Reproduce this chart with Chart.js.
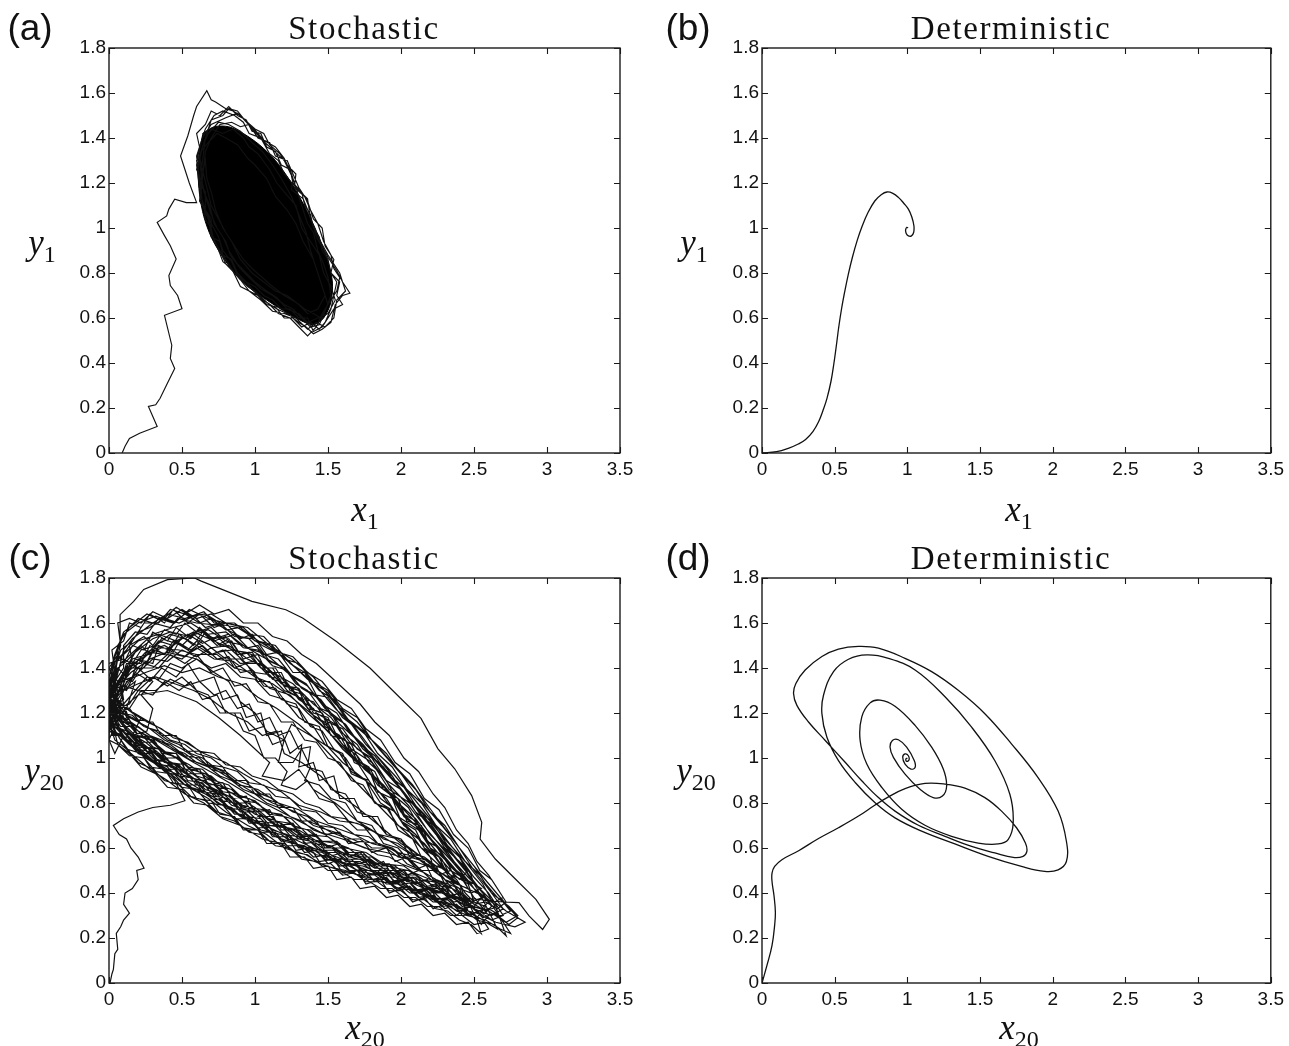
<!DOCTYPE html>
<html>
<head>
<meta charset="utf-8">
<script src="https://cdn.jsdelivr.net/npm/chart.js@4.4.1/dist/chart.umd.min.js"></script>
<style>
  html,body{margin:0;padding:0;background:#fff;}
  body{width:1289px;height:1046px;position:relative;overflow:hidden;}
  canvas{position:absolute;}
  .lbl{position:absolute;transform:translate(-50%,-50%);white-space:nowrap;color:#111;}
  .pl{font-family:"Liberation Sans",Arial,sans-serif;font-size:37px;}
  .ttl{font-family:"Liberation Serif","DejaVu Serif",serif;font-size:33px;letter-spacing:1.6px;}
  .ax{font-family:"Liberation Serif","DejaVu Serif",serif;font-style:italic;font-size:35px;}
  .ax sub{font-style:normal;font-size:24px;vertical-align:-8px;}
</style>
</head>
<body>
<canvas id="ca" width="660" height="500" style="left:0;top:0"></canvas>
<canvas id="cb" width="636" height="500" style="left:653px;top:0"></canvas>
<canvas id="cc" width="660" height="500" style="left:0;top:530px"></canvas>
<canvas id="cd" width="636" height="500" style="left:653px;top:530px"></canvas>

<div class="lbl pl" style="left:30px;top:28px">(a)</div>
<div class="lbl ttl" style="left:364px;top:28px">Stochastic</div>
<div class="lbl ax" style="left:365px;top:512px"><span>x</span><sub>1</sub></div>
<div class="lbl ax" style="left:42px;top:245px"><span>y</span><sub>1</sub></div>

<div class="lbl pl" style="left:688px;top:28px">(b)</div>
<div class="lbl ttl" style="left:1011px;top:28px">Deterministic</div>
<div class="lbl ax" style="left:1019px;top:512px"><span>x</span><sub>1</sub></div>
<div class="lbl ax" style="left:694px;top:245px"><span>y</span><sub>1</sub></div>

<div class="lbl pl" style="left:30px;top:558px">(c)</div>
<div class="lbl ttl" style="left:364px;top:558px">Stochastic</div>
<div class="lbl ax" style="left:365px;top:1030px"><span>x</span><sub>20</sub></div>
<div class="lbl ax" style="left:44px;top:773px"><span>y</span><sub>20</sub></div>

<div class="lbl pl" style="left:688px;top:558px">(d)</div>
<div class="lbl ttl" style="left:1011px;top:558px">Deterministic</div>
<div class="lbl ax" style="left:1019px;top:1030px"><span>x</span><sub>20</sub></div>
<div class="lbl ax" style="left:696px;top:773px"><span>y</span><sub>20</sub></div>

<script>
// ---------- tick values ----------
const xTicks = [0, 0.5, 1, 1.5, 2, 2.5, 3, 3.5];
const yTicks = [0, 0.2, 0.4, 0.6, 0.8, 1, 1.2, 1.4, 1.6, 1.8];

// ---------- (a) stochastic, x1 vs y1 ----------
const stochA = [
 [0.09,0.0],[0.11,0.03],[0.14,0.065],[0.21,0.088],[0.33,0.118],[0.27,0.207],[0.32,0.214],[0.35,0.243],
 [0.4,0.31],[0.45,0.376],[0.42,0.42],[0.43,0.479],[0.38,0.612],[0.5,0.641],[0.47,0.7],[0.42,0.744],
 [0.41,0.789],[0.46,0.862],[0.42,0.921],[0.38,0.966],[0.33,1.025],[0.395,1.054],[0.41,1.084],[0.45,1.128],
 [0.53,1.113],[0.6,1.113],
 [0.55,1.2],[0.49,1.32],[0.54,1.41],[0.58,1.5],[0.6,1.54],[0.67,1.61],[0.7,1.57],[0.73,1.56],[0.8,1.53],
 [0.85,1.52],[0.9,1.5],[0.97,1.45],[1.05,1.39],[1.12,1.35],[1.2,1.3],[1.26,1.22],[1.25,1.17],[1.33,1.13],
 [1.38,1.05],[1.42,0.96],[1.5,0.87],[1.56,0.81],[1.6,0.76],[1.65,0.71],[1.6,0.7],[1.55,0.66],[1.52,0.58],
 [1.46,0.55],[1.4,0.53],[1.35,0.56],[1.3,0.58],[1.22,0.62],[1.15,0.64],[1.08,0.67],[1.0,0.72],[0.95,0.74],
 [0.88,0.79],[0.84,0.85],[0.78,0.9],[0.75,0.96],[0.7,1.02],[0.66,1.08],[0.63,1.14],[0.62,1.22],[0.6,1.3],
 [0.63,1.38],[0.66,1.44],[0.72,1.5],[0.78,1.52],[0.86,1.5],[0.92,1.47],[0.96,1.42],[1.04,1.4],[1.1,1.33],
 [1.16,1.3],[1.2,1.24],[1.28,1.18],[1.32,1.1],[1.36,1.02],[1.4,0.98],[1.43,0.9],[1.47,0.84],[1.5,0.78],
 [1.52,0.7],[1.48,0.63],[1.44,0.57],[1.38,0.56],[1.32,0.6],[1.26,0.64],[1.2,0.66],[1.12,0.7],[1.04,0.73],
 [0.96,0.78],[0.9,0.82],[0.83,0.88],[0.8,0.94],[0.74,1.0],[0.7,1.06],[0.66,1.14],[0.64,1.2],[0.62,1.3],
 [0.64,1.36],[0.68,1.42],[0.75,1.47],[0.82,1.46],[0.9,1.43],[0.98,1.38],[1.05,1.34],[1.12,1.28],[1.18,1.22],
 [1.25,1.14],[1.3,1.06],[1.35,0.98],[1.38,0.9],[1.42,0.82],[1.46,0.74],[1.5,0.66],[1.45,0.6],[1.4,0.62],
 [1.34,0.64],[1.28,0.67],[1.2,0.7],[1.12,0.74],[1.05,0.78],[0.98,0.82],[0.92,0.86],[0.86,0.92],[0.8,0.98],
 [0.75,1.04],[0.7,1.1],[0.67,1.18],[0.64,1.26],[0.62,1.32],[0.66,1.4],[0.7,1.44],[0.78,1.42],[0.85,1.44],
 [0.92,1.4],[0.96,1.36],[1.02,1.33],[1.1,1.26],[1.15,1.2],[1.2,1.16],[1.28,1.1],[1.32,1.0],[1.38,0.94],
 [1.44,0.88],[1.47,0.8],[1.52,0.74],[1.55,0.68],[1.5,0.62],[1.43,0.6],[1.36,0.58],[1.3,0.62],[1.22,0.64],
 [1.15,0.69],[1.08,0.72],[1.0,0.76],[0.94,0.8],[0.88,0.84],[0.82,0.9],[0.78,0.96],[0.72,1.02],[0.69,1.1],
 [0.65,1.16],[0.63,1.24],[0.66,1.4],[0.7,1.48],[0.78,1.5],[0.82,1.53],[0.88,1.52],[0.93,1.48],[1.0,1.44],
 [1.06,1.42],[1.1,1.37],[1.17,1.33],[1.22,1.28],[1.28,1.24],[1.27,1.18],[1.34,1.14],[1.38,1.08],[1.43,1.02],
 [1.47,0.94],[1.52,0.88],[1.54,0.82],[1.58,0.78],[1.56,0.72],[1.5,0.66],[1.46,0.62],[1.42,0.56],[1.36,0.52],
 [1.3,0.56],[1.24,0.6],[1.16,0.62],[1.1,0.66],[1.02,0.7],[0.94,0.76],[0.86,0.8],[0.8,0.86],[0.74,0.92],
 [0.7,0.98],[0.68,1.06],[0.62,1.12],[0.64,1.2],[0.6,1.26],[0.63,1.34],[0.68,1.38],[0.74,1.42],[0.8,1.4],
 [0.88,1.37],[0.95,1.31],[1.0,1.28],[1.08,1.22],[1.14,1.14],[1.22,1.08],[1.28,1.02],[1.33,0.94],[1.4,0.86],
 [1.44,0.78],[1.48,0.7],[1.43,0.64],[1.36,0.62],[1.3,0.66],[1.22,0.7],[1.14,0.72],[1.06,0.76],[0.98,0.8],
 [0.9,0.86],[0.84,0.94],[0.78,1.0],[0.73,1.08],[0.7,1.16],[0.67,1.22],[0.66,1.3],
 [0.62,1.18],[0.6,1.28],[0.62,1.36],[0.6,1.42],[0.66,1.46],[0.7,1.52],[0.76,1.5],[0.82,1.54],[0.88,1.5],
 [0.94,1.48],[0.98,1.43],[1.04,1.42],[1.08,1.36],[1.14,1.34],[1.18,1.28],[1.24,1.26],[1.26,1.2],[1.32,1.16],
 [1.34,1.1],[1.38,1.06],[1.4,1.0],[1.44,0.96],[1.46,0.9],[1.5,0.86],[1.52,0.8],[1.56,0.76],[1.54,0.7],
 [1.52,0.64],[1.48,0.58],[1.44,0.55],[1.38,0.58],[1.32,0.56],[1.26,0.6],[1.2,0.6],[1.14,0.65],[1.08,0.66],
 [1.02,0.7],[0.96,0.72],[0.9,0.77],[0.86,0.8],[0.8,0.84],[0.76,0.9],[0.72,0.94],[0.7,1.0],[0.66,1.04],
 [0.65,1.1],[0.62,1.16],
 [0.64,1.22],[0.66,1.34],[0.7,1.4],[0.76,1.46],[0.84,1.47],[0.9,1.45],[0.96,1.46],[1.02,1.4],[1.1,1.38],
 [1.14,1.32],[1.22,1.3],[1.26,1.24],[1.3,1.18],[1.36,1.12],[1.4,1.04],[1.46,1.0],[1.48,0.92],[1.54,0.86],
 [1.52,0.8],[1.58,0.76],[1.56,0.7],[1.6,0.66],[1.54,0.64],[1.5,0.6],[1.46,0.56],[1.4,0.54],[1.36,0.6],
 [1.3,0.6],[1.24,0.64],[1.18,0.64],[1.12,0.68],[1.06,0.7],[1.0,0.74],[0.94,0.76],[0.88,0.8],[0.84,0.86],
 [0.78,0.88],[0.76,0.94],[0.7,0.96],[0.7,1.04],[0.66,1.08],[0.66,1.16],
 [0.62,1.2],[0.6,1.32],[0.64,1.4],[0.7,1.46],[0.8,1.49],[0.88,1.51],[0.98,1.45],[1.06,1.39],[1.14,1.36],
 [1.2,1.31],[1.25,1.24],[1.28,1.18],[1.36,1.13],[1.38,1.04],[1.44,0.95],[1.5,0.88],[1.58,0.8],[1.62,0.72],
 [1.56,0.68],[1.54,0.6],[1.48,0.56],[1.42,0.58],[1.36,0.55],[1.28,0.6],[1.2,0.62],[1.12,0.63],[1.04,0.68],
 [0.96,0.72],[0.9,0.74],[0.84,0.82],[0.78,0.85],[0.74,0.92],[0.7,0.97],[0.68,1.04],[0.64,1.1],[0.63,1.18]
];
const stochAcore = [
 [0.64,1.42],[0.72,1.45],[0.82,1.45],[0.92,1.42],[1.03,1.37],[1.14,1.30],[1.24,1.21],[1.32,1.12],
 [1.39,1.03],[1.45,0.94],[1.50,0.85],[1.53,0.76],[1.52,0.67],[1.47,0.60],[1.40,0.57],[1.31,0.59],
 [1.20,0.63],[1.08,0.68],[0.97,0.73],[0.86,0.80],[0.77,0.88],[0.70,0.96],[0.65,1.05],[0.62,1.15],
 [0.61,1.26],[0.62,1.36]
];

// ---------- (b) deterministic, x1 vs y1 ----------
const detB = [
 [0,0],[0.1,0.006],[0.185,0.022],[0.25,0.04],[0.3,0.06],[0.35,0.095],[0.39,0.14],[0.42,0.19],[0.447,0.243],
 [0.475,0.32],[0.495,0.40],[0.512,0.48],[0.528,0.56],[0.547,0.64],[0.57,0.72],[0.594,0.795],[0.622,0.87],
 [0.655,0.945],[0.69,1.01],[0.73,1.07],[0.776,1.12],[0.82,1.148],[0.86,1.16],[0.9,1.154],[0.94,1.135],
 [0.975,1.11],[1.007,1.084],[1.03,1.05],[1.045,1.01],[1.043,0.98],[1.028,0.965],[1.007,0.965],[0.992,0.976],
 [0.988,0.992],[0.997,1.003],[1.005,1.0]
];

// ---------- (c) stochastic, x20 vs y20 ----------
const stochC = [
 [0.007,0.0],[0.02,0.04],[0.03,0.06],[0.04,0.13],[0.06,0.15],[0.05,0.22],[0.08,0.25],[0.1,0.28],[0.14,0.31],
 [0.1,0.35],[0.11,0.4],[0.16,0.42],[0.2,0.46],[0.19,0.5],[0.24,0.51],[0.2,0.56],[0.15,0.6],[0.12,0.64],
 [0.07,0.66],[0.04,0.69],[0.03,0.7],[0.1,0.73],[0.2,0.76],[0.3,0.78],[0.42,0.79],[0.52,0.81],[0.45,0.9],
 [0.3,1.0],[0.15,1.1],[0.05,1.2],
 [0.02,1.3],[0.08,1.52],[0.076,1.637],[0.169,1.696],[0.238,1.749],[0.4,1.793],[0.586,1.8],[0.632,1.786],
 [0.748,1.756],[0.979,1.696],[1.211,1.659],[1.326,1.622],[1.558,1.518],[1.789,1.399],[2.021,1.25],[2.137,1.176],
 [2.252,1.042],[2.368,0.952],[2.484,0.833],[2.553,0.714],[2.542,0.64],[2.646,0.551],[2.785,0.461],[2.924,0.372],
 [3.016,0.283],[2.97,0.238],[2.877,0.298],[2.808,0.357],[2.7,0.36],[2.55,0.37],[2.4,0.38],[2.2,0.42],
 [2.0,0.47],[1.8,0.52],[1.6,0.55],[1.4,0.6],[1.2,0.66],[1.0,0.72],[0.85,0.8],[0.7,0.86],[0.55,0.92],
 [0.4,0.98],[0.25,1.05],[0.12,1.12],[0.04,1.2],
 [0.03,1.3],[0.1,1.48],[0.16,1.53],[0.3,1.6],[0.42,1.58],[0.47,1.62],[0.6,1.6],[0.75,1.59],[0.9,1.54],
 [0.98,1.53],[1.05,1.5],[1.2,1.45],[1.36,1.35],[1.5,1.29],[1.62,1.18],[1.8,1.08],[1.95,0.97],[2.08,0.88],
 [2.25,0.73],[2.38,0.62],[2.5,0.5],[2.62,0.4],[2.7,0.33],[2.62,0.3],[2.5,0.33],[2.4,0.36],[2.25,0.41],
 [2.12,0.44],[1.95,0.49],[1.82,0.49],[1.65,0.53],[1.5,0.55],[1.38,0.6],[1.2,0.63],[1.05,0.7],[0.9,0.74],
 [0.76,0.81],[0.6,0.87],[0.45,0.93],[0.3,0.99],[0.18,1.06],[0.06,1.14],
 [0.02,1.2],[0.08,1.33],[0.15,1.38],[0.28,1.44],[0.4,1.47],[0.52,1.45],[0.6,1.49],[0.72,1.44],[0.85,1.43],
 [1.0,1.36],[1.12,1.33],[1.25,1.27],[1.38,1.2],[1.5,1.14],[1.6,1.06],[1.75,0.95],[1.88,0.88],[2.02,0.77],
 [2.15,0.68],[2.3,0.56],[2.42,0.47],[2.46,0.42],[2.38,0.44],[2.25,0.5],[2.1,0.56],[1.98,0.58],[1.85,0.62],
 [1.7,0.63],[1.55,0.67],[1.4,0.7],[1.28,0.76],[1.12,0.8],[0.98,0.85],[0.85,0.9],[0.7,0.96],[0.56,0.99],
 [0.42,1.05],[0.28,1.1],[0.15,1.16],[0.05,1.24],
 [0.0,1.3],[0.04,1.45],[0.1,1.55],[0.2,1.6],[0.32,1.63],[0.45,1.6],[0.55,1.66],[0.68,1.62],[0.8,1.6],
 [0.95,1.58],[1.1,1.5],[1.25,1.44],[1.4,1.36],[1.55,1.24],[1.7,1.16],[1.85,1.04],[2.0,0.93],[2.12,0.82],
 [2.28,0.7],[2.4,0.6],[2.55,0.48],[2.68,0.38],[2.8,0.29],[2.74,0.26],[2.6,0.32],[2.45,0.35],[2.35,0.42],
 [2.2,0.44],[2.05,0.5],[1.9,0.5],[1.75,0.57],[1.6,0.57],[1.45,0.63],[1.3,0.65],[1.15,0.72],[1.0,0.75],
 [0.85,0.82],[0.7,0.87],[0.55,0.94],[0.4,0.99],[0.25,1.07],[0.12,1.12],[0.02,1.22],
 [0.05,1.28],[0.14,1.35],[0.25,1.38],[0.38,1.41],[0.5,1.38],[0.62,1.4],[0.75,1.36],[0.9,1.33],[1.02,1.27],
 [1.15,1.22],[1.3,1.15],[1.42,1.08],[1.55,0.99],[1.68,0.9],[1.8,0.82],[1.95,0.72],[2.08,0.64],[2.2,0.56],
 [2.22,0.52],[2.1,0.58],[1.98,0.64],[1.85,0.66],[1.7,0.71],[1.58,0.72],[1.45,0.76],[1.3,0.79],[1.18,0.85],
 [1.05,0.88],[0.92,0.93],[0.8,0.98],[0.65,1.02],[0.5,1.08],[0.38,1.12],[0.25,1.17],[0.12,1.22],[0.03,1.28],
 [0.08,1.36],[0.18,1.47],[0.3,1.53],[0.42,1.56],[0.55,1.54],[0.68,1.57],[0.8,1.52],[0.92,1.5],[1.05,1.45],
 [1.2,1.4],[1.32,1.31],[1.45,1.26],[1.58,1.15],[1.7,1.08],[1.85,0.97],[2.0,0.86],[2.15,0.74],[2.3,0.62],
 [2.42,0.52],[2.55,0.41],[2.65,0.32],[2.75,0.22],[2.68,0.24],[2.58,0.28],[2.45,0.3],[2.3,0.35],[2.18,0.38],
 [2.05,0.42],[1.9,0.46],[1.78,0.46],[1.62,0.5],[1.48,0.52],[1.35,0.57],[1.2,0.6],[1.08,0.66],[0.95,0.7],
 [0.8,0.76],[0.68,0.82],[0.52,0.88],[0.38,0.95],[0.25,1.0],[0.12,1.08],[0.04,1.16],
 [0.0,1.25],[0.06,1.4],[0.12,1.43],[0.22,1.5],[0.28,1.46],[0.36,1.53],[0.5,1.5],[0.58,1.55],[0.7,1.49],
 [0.82,1.5],[0.95,1.44],[1.08,1.4],[1.18,1.33],[1.3,1.3],[1.42,1.2],[1.55,1.15],[1.66,1.04],[1.8,0.98],
 [1.92,0.86],[2.06,0.8],[2.2,0.66],[2.32,0.58],[2.45,0.46],[2.55,0.38],[2.5,0.34],[2.38,0.38],[2.28,0.44],
 [2.15,0.46],[2.02,0.52],[1.88,0.53],[1.76,0.58],[1.62,0.6],[1.5,0.65],[1.36,0.66],[1.25,0.73],[1.1,0.76],
 [0.96,0.82],[0.82,0.85],[0.7,0.92],[0.56,0.95],[0.44,1.01],[0.3,1.05],[0.2,1.12],[0.08,1.17],
 [0.02,1.22],[0.1,1.3],[0.2,1.33],[0.32,1.36],[0.45,1.33],[0.58,1.3],[0.7,1.26],[0.82,1.2],[0.95,1.16],
 [1.05,1.1],[1.15,1.12],[1.2,1.02],[1.32,0.98],[1.45,0.92],[1.55,0.85],[1.7,0.78],[1.85,0.7],[2.0,0.62],
 [2.12,0.57],[2.05,0.55],[1.9,0.58],[1.75,0.6],[1.6,0.64],[1.45,0.67],[1.3,0.72],[1.15,0.77],[1.0,0.82],
 [0.85,0.88],[0.72,0.93],[0.58,0.98],[0.45,1.03],[0.32,1.08],[0.2,1.12],[0.1,1.18],
 [0.04,1.3],[0.06,1.5],[0.14,1.58],[0.2,1.62],[0.3,1.6],[0.4,1.64],[0.52,1.62],[0.65,1.65],[0.72,1.6],
 [0.88,1.58],[1.0,1.53],[1.15,1.47],[1.28,1.4],[1.42,1.32],[1.55,1.22],[1.68,1.14],[1.82,1.02],[1.96,0.92],
 [2.1,0.81],[2.25,0.69],[2.38,0.58],[2.5,0.47],[2.6,0.4],[2.66,0.34],[2.58,0.32],[2.45,0.37],[2.32,0.39],
 [2.18,0.45],[2.05,0.47],[1.92,0.52],[1.78,0.54],[1.65,0.56],[1.52,0.61],[1.4,0.62],[1.26,0.68],[1.12,0.71],
 [0.98,0.78],[0.85,0.8],[0.72,0.88],[0.58,0.91],[0.45,0.97],[0.32,1.02],[0.2,1.08],[0.1,1.14],[0.03,1.2],
 [0.05,1.26],[0.12,1.4],[0.24,1.45],[0.36,1.49],[0.48,1.48],[0.6,1.46],[0.74,1.46],[0.86,1.4],[0.98,1.38],
 [1.1,1.31],[1.24,1.28],[1.36,1.2],[1.48,1.13],[1.6,1.05],[1.72,0.97],[1.85,0.9],[1.98,0.8],[2.1,0.73],
 [2.22,0.63],[2.35,0.54],[2.48,0.44],[2.52,0.4],[2.42,0.43],[2.3,0.48],[2.18,0.52],[2.05,0.55],[1.92,0.6],
 [1.8,0.62],[1.68,0.66],[1.55,0.69],[1.42,0.72],[1.3,0.77],[1.16,0.8],[1.02,0.86],[0.9,0.88],[0.78,0.94],
 [0.64,0.98],[0.5,1.04],[0.38,1.08],[0.26,1.14],[0.14,1.18],[0.04,1.26],
 [0.0,1.32],[0.03,1.42],[0.1,1.46],[0.2,1.52],[0.34,1.55],[0.46,1.52],[0.58,1.56],[0.72,1.52],[0.85,1.48],
 [0.98,1.46],[1.12,1.38],[1.26,1.33],[1.4,1.24],[1.52,1.18],[1.65,1.07],[1.78,1.0],[1.92,0.88],[2.05,0.79],
 [2.18,0.68],[2.32,0.57],[2.46,0.47],[2.6,0.38],[2.72,0.32],[2.85,0.27],[2.78,0.25],[2.65,0.27],[2.52,0.31],
 [2.4,0.33],[2.28,0.37],[2.15,0.4],[2.0,0.44],[1.86,0.45],[1.72,0.48],[1.58,0.5],[1.45,0.53],[1.32,0.56],
 [1.18,0.62],[1.05,0.64],[0.9,0.7],[0.78,0.73],[0.65,0.8],[0.52,0.84],[0.4,0.9],[0.28,0.95],[0.15,1.02],
 [0.06,1.1],
 [0.0,1.18],[0.05,1.3],[0.1,1.38],[0.18,1.42],[0.25,1.47],[0.38,1.5],[0.48,1.46],[0.6,1.44],[0.72,1.38],
 [0.82,1.34],[0.9,1.25],[1.0,1.2],[1.08,1.12],[1.2,1.08],[1.25,1.15],[1.38,1.1],[1.5,1.05],[1.6,0.98],
 [1.72,0.92],[1.85,0.85],[1.98,0.74],[2.12,0.68],[2.25,0.58],[2.38,0.5],[2.5,0.42],[2.6,0.36],[2.55,0.33],
 [2.42,0.35],[2.3,0.4],[2.16,0.42],[2.02,0.46],[1.88,0.48],[1.74,0.52],[1.6,0.53],[1.46,0.58],[1.32,0.6],
 [1.18,0.66],[1.04,0.68],[0.92,0.74],[0.8,0.78],[0.66,0.84],[0.52,0.88],[0.4,0.96],[0.26,1.0],[0.14,1.06],
 [0.04,1.12],
 [0.0,1.26],[0.08,1.42],[0.18,1.48],[0.3,1.55],[0.44,1.58],[0.56,1.6],[0.68,1.55],[0.8,1.56],[0.94,1.49],
 [1.08,1.46],[1.22,1.38],[1.35,1.33],[1.48,1.22],[1.6,1.16],[1.74,1.04],[1.88,0.96],[2.02,0.84],[2.16,0.75],
 [2.3,0.64],[2.44,0.54],[2.56,0.44],[2.66,0.32],[2.72,0.21],[2.64,0.26],[2.52,0.28],[2.4,0.34],[2.26,0.36],
 [2.12,0.41],[1.98,0.42],[1.84,0.48],[1.7,0.5],[1.56,0.55],[1.42,0.57],[1.28,0.62],[1.14,0.65],[1.0,0.72],
 [0.86,0.76],[0.72,0.84],[0.58,0.86],[0.46,0.93],[0.34,0.96],[0.2,1.04],[0.08,1.1],
 [0.05,1.2],[0.2,1.28],[0.4,1.3],[0.6,1.25],[0.75,1.18],[0.9,1.1],[1.0,1.04],[1.1,0.98],[1.05,0.92],
 [1.2,0.9],[1.3,0.95],[1.4,0.86],[1.55,0.8],[1.7,0.72],[1.85,0.66],[2.0,0.6],[2.15,0.54],[2.3,0.46],
 [2.35,0.42],[2.2,0.46],[2.05,0.5],[1.9,0.52],[1.75,0.55],[1.6,0.58],[1.45,0.62],[1.3,0.68],[1.15,0.7],
 [1.0,0.78],[0.85,0.84],[0.7,0.9],[0.55,0.97],[0.4,1.02],[0.25,1.1],[0.1,1.16],[0.12,1.18],
 [0.08,1.3],[0.16,1.42],[0.14,1.5],[0.24,1.54],[0.3,1.5],[0.38,1.57],[0.46,1.55],[0.52,1.6],[0.6,1.56],
 [0.7,1.58],[0.78,1.53],[0.86,1.55],[0.95,1.49],[1.02,1.5],[1.1,1.43],[1.2,1.4],[1.28,1.33],[1.36,1.3],
 [1.45,1.22],[1.52,1.2],[1.6,1.11],[1.7,1.06],[1.78,0.98],[1.88,0.92],[1.96,0.83],[2.05,0.78],[2.14,0.68],
 [2.22,0.63],[2.32,0.53],[2.4,0.48],[2.5,0.38],[2.6,0.3],[2.55,0.26],[2.5,0.31],[2.42,0.3],[2.36,0.35],
 [2.28,0.34],[2.2,0.39],[2.12,0.38],[2.04,0.43],[1.96,0.42],[1.88,0.47],[1.8,0.46],[1.72,0.5],[1.64,0.5],
 [1.56,0.54],[1.48,0.55],[1.4,0.6],[1.3,0.6],[1.22,0.66],[1.12,0.68],[1.04,0.73],[0.95,0.74],[0.86,0.8],
 [0.78,0.81],[0.7,0.87],[0.6,0.88],[0.52,0.94],[0.42,0.96],[0.34,1.02],[0.26,1.03],[0.2,1.1],[0.15,1.15],
 [0.1,1.24],[0.18,1.3],[0.26,1.36],[0.34,1.35],[0.42,1.42],[0.5,1.4],[0.6,1.44],[0.7,1.4],[0.8,1.42],
 [0.9,1.36],[1.0,1.35],[1.1,1.28],[1.2,1.26],[1.3,1.18],[1.4,1.14],[1.48,1.06],[1.58,1.02],[1.66,0.94],
 [1.76,0.9],[1.86,0.8],[1.96,0.76],[2.06,0.67],[2.16,0.62],[2.26,0.54],[2.34,0.48],[2.38,0.44],[2.3,0.46],
 [2.22,0.5],[2.14,0.5],[2.06,0.55],[1.98,0.56],[1.9,0.6],[1.8,0.6],[1.72,0.64],[1.62,0.64],[1.54,0.69],
 [1.44,0.7],[1.36,0.74],[1.26,0.76],[1.16,0.8],[1.06,0.82],[0.98,0.87],[0.88,0.88],[0.8,0.93],[0.7,0.95],
 [0.62,1.0],[0.52,1.01],[0.42,1.06],[0.32,1.08],[0.22,1.13],[0.12,1.16],[0.05,1.22],
 [0.02,1.3],[0.06,1.44],[0.12,1.48],[0.2,1.56],[0.28,1.58],[0.38,1.62],[0.48,1.6],[0.58,1.63],[0.66,1.58],
 [0.76,1.6],[0.86,1.54],[0.96,1.53],[1.06,1.46],[1.16,1.44],[1.26,1.36],[1.36,1.32],[1.46,1.24],[1.56,1.2],
 [1.64,1.12],[1.74,1.06],[1.84,0.98],[1.94,0.92],[2.04,0.82],[2.14,0.76],[2.24,0.66],[2.34,0.58],[2.44,0.5],
 [2.52,0.42],[2.6,0.32],[2.66,0.24],[2.58,0.27],[2.5,0.26],[2.42,0.3],[2.34,0.3],[2.26,0.34],[2.18,0.34],
 [2.1,0.38],[2.02,0.38],[1.94,0.42],[1.86,0.42],[1.76,0.46],[1.68,0.46],[1.58,0.5],[1.5,0.5],[1.42,0.54],
 [1.32,0.55],[1.24,0.6],[1.14,0.61],[1.04,0.66],[0.96,0.67],[0.86,0.72],[0.76,0.74],[0.68,0.79],[0.58,0.8],
 [0.5,0.86],[0.4,0.87],[0.32,0.93],[0.22,0.96],[0.14,1.02],[0.06,1.06],[0.03,1.14],
 [0.0,1.12],[0.06,1.2],[0.14,1.22],[0.22,1.3],[0.32,1.3],[0.42,1.35],[0.52,1.32],[0.62,1.34],[0.72,1.28],
 [0.8,1.3],[0.88,1.22],[0.96,1.24],[1.02,1.16],[1.1,1.18],[1.16,1.1],[1.24,1.12],[1.3,1.04],[1.38,1.05],
 [1.36,0.96],[1.46,0.94],[1.52,0.86],[1.62,0.84],[1.7,0.76],[1.8,0.74],[1.9,0.66],[2.0,0.64],[2.1,0.56],
 [2.2,0.54],[2.3,0.46],[2.4,0.42],[2.44,0.36],[2.36,0.38],[2.28,0.42],[2.18,0.42],[2.1,0.47],[2.0,0.47],
 [1.92,0.52],[1.82,0.52],[1.74,0.56],[1.64,0.57],[1.56,0.62],[1.46,0.63],[1.36,0.68],[1.26,0.7],[1.18,0.75],
 [1.08,0.76],[1.0,0.81],[0.9,0.83],[0.82,0.88],[0.72,0.9],[0.64,0.95],[0.54,0.96],[0.46,1.02],[0.36,1.03],
 [0.28,1.08],[0.18,1.1],[0.1,1.15],
 [0.04,1.24],[0.02,1.38],[0.08,1.5],[0.06,1.6],[0.14,1.62],[0.22,1.6],[0.3,1.65],[0.4,1.62],[0.5,1.66],
 [0.6,1.62],[0.7,1.64],[0.8,1.6],[0.92,1.58],[1.02,1.52],[1.14,1.5],[1.24,1.42],[1.34,1.38],[1.44,1.3],
 [1.54,1.26],[1.64,1.17],[1.74,1.12],[1.84,1.02],[1.94,0.96],[2.04,0.86],[2.14,0.8],[2.24,0.7],[2.34,0.64],
 [2.44,0.54],[2.54,0.48],[2.62,0.4],[2.7,0.36],[2.75,0.32],[2.68,0.3],[2.6,0.33],[2.52,0.32],[2.44,0.37],
 [2.36,0.36],[2.28,0.41],[2.2,0.4],[2.1,0.45],[2.02,0.44],[1.92,0.49],[1.84,0.48],[1.74,0.53],[1.66,0.53],
 [1.56,0.58],[1.48,0.58],[1.38,0.63],[1.3,0.64],[1.2,0.69],[1.1,0.7],[1.02,0.76],[0.92,0.77],[0.84,0.83],
 [0.74,0.84],[0.66,0.9],[0.56,0.91],[0.48,0.97],[0.38,0.98],[0.3,1.04],[0.2,1.06],[0.12,1.12],[0.04,1.14],
 [0.0,1.2],[0.08,1.28],[0.12,1.38],[0.2,1.42],[0.28,1.47],[0.38,1.46],[0.46,1.52],[0.56,1.48],[0.64,1.52],
 [0.74,1.47],[0.84,1.48],[0.94,1.42],[1.04,1.42],[1.12,1.35],[1.22,1.33],[1.3,1.26],[1.4,1.22],[1.48,1.14],
 [1.58,1.1],[1.66,1.01],[1.76,0.96],[1.84,0.88],[1.94,0.83],[2.02,0.74],[2.12,0.69],[2.2,0.6],[2.28,0.55],
 [2.32,0.5],[2.24,0.52],[2.16,0.56],[2.06,0.58],[1.98,0.62],[1.88,0.64],[1.8,0.68],[1.7,0.68],[1.62,0.73],
 [1.52,0.74],[1.44,0.78],[1.34,0.8],[1.26,0.84],[1.16,0.86],[1.08,0.9],[0.98,0.92],[0.9,0.96],[0.8,0.97],
 [0.72,1.02],[0.62,1.03],[0.54,1.07],[0.44,1.09],[0.36,1.13],[0.26,1.16],[0.16,1.2],[0.08,1.24],
 [0.02,1.3],[0.1,1.36],[0.16,1.44],[0.26,1.46],[0.34,1.52],[0.44,1.5],[0.54,1.55],[0.64,1.51],[0.74,1.54],
 [0.84,1.48],[0.94,1.47],[1.04,1.4],[1.14,1.37],[1.22,1.3],[1.32,1.26],[1.42,1.17],[1.5,1.12],[1.6,1.04],
 [1.7,0.98],[1.8,0.88],[1.9,0.82],[2.0,0.72],[2.1,0.66],[2.2,0.56],[2.3,0.5],[2.38,0.42],[2.46,0.36],
 [2.52,0.28],[2.55,0.22],[2.48,0.26],[2.4,0.28],[2.32,0.32],[2.24,0.33],[2.16,0.37],[2.08,0.37],[2.0,0.41],
 [1.92,0.41],[1.84,0.45],[1.76,0.45],[1.68,0.49],[1.6,0.48],[1.52,0.53],[1.44,0.53],[1.36,0.57],[1.28,0.58],
 [1.2,0.62],[1.1,0.63],[1.02,0.68],[0.92,0.69],[0.84,0.74],[0.74,0.76],[0.66,0.81],[0.56,0.83],[0.48,0.88],
 [0.38,0.9],[0.3,0.95],[0.2,0.98],[0.12,1.04],[0.04,1.08],
 [0.0,1.16],[0.04,1.26],[0.12,1.32],[0.2,1.4],[0.3,1.4],[0.4,1.46],[0.5,1.44],[0.6,1.5],[0.7,1.46],
 [0.8,1.48],[0.9,1.42],[1.0,1.43],[1.1,1.36],[1.2,1.35],[1.3,1.27],[1.4,1.25],[1.5,1.16],[1.6,1.13],
 [1.7,1.04],[1.8,1.0],[1.9,0.9],[2.0,0.86],[2.1,0.76],[2.2,0.71],[2.3,0.62],[2.4,0.56],[2.48,0.48],
 [2.5,0.44],[2.42,0.46],[2.34,0.48],[2.26,0.52],[2.18,0.52],[2.1,0.56],[2.02,0.56],[1.94,0.6],[1.86,0.61],
 [1.78,0.65],[1.68,0.66],[1.6,0.7],[1.5,0.71],[1.42,0.76],[1.32,0.77],[1.24,0.82],[1.14,0.83],[1.06,0.88],
 [0.96,0.89],[0.88,0.94],[0.78,0.96],[0.7,1.0],[0.6,1.02],[0.52,1.06],[0.42,1.08],[0.34,1.12],[0.24,1.14],
 [0.16,1.19],[0.08,1.2],
 [0.02,1.26],[0.1,1.32],[0.2,1.3],[0.3,1.36],[0.4,1.32],[0.5,1.36],[0.6,1.3],[0.68,1.28],[0.76,1.2],
 [0.86,1.2],[0.92,1.12],[1.0,1.1],[1.06,1.0],[1.14,1.0],[1.22,0.94],[1.18,0.88],[1.28,0.86],[1.36,0.9],
 [1.44,0.82],[1.54,0.8],[1.64,0.72],[1.74,0.7],[1.84,0.62],[1.94,0.6],[2.04,0.53],[2.14,0.5],[2.24,0.44],
 [2.3,0.4],[2.22,0.4],[2.14,0.44],[2.04,0.45],[1.96,0.5],[1.86,0.5],[1.78,0.55],[1.68,0.55],[1.6,0.6],
 [1.5,0.6],[1.42,0.65],[1.32,0.66],[1.24,0.71],[1.14,0.72],[1.06,0.77],[0.96,0.78],[0.88,0.84],[0.78,0.85],
 [0.7,0.9],[0.6,0.92],[0.52,0.97],[0.42,0.98],[0.34,1.04],[0.24,1.05],[0.16,1.1],[0.08,1.12],[0.02,1.2],
 [0.0,1.36],[0.04,1.46],[0.1,1.56],[0.18,1.6],[0.26,1.64],[0.36,1.61],[0.46,1.67],[0.56,1.63],[0.66,1.64],
 [0.76,1.6],[0.86,1.6],[0.96,1.55],[1.06,1.54],[1.16,1.47],[1.26,1.45],[1.36,1.38],[1.46,1.34],[1.56,1.26],
 [1.66,1.22],[1.76,1.13],[1.86,1.08],[1.96,0.98],[2.06,0.93],[2.16,0.82],[2.26,0.77],[2.36,0.66],[2.46,0.6],
 [2.54,0.5],[2.62,0.46],[2.7,0.38],[2.64,0.36],[2.56,0.38],[2.48,0.36],[2.4,0.4],[2.32,0.38],[2.24,0.43],
 [2.16,0.42],[2.08,0.47],[2.0,0.46],[1.9,0.51],[1.82,0.51],[1.72,0.55],[1.64,0.55],[1.54,0.6],[1.46,0.6],
 [1.36,0.65],[1.28,0.66],[1.18,0.71],[1.1,0.72],[1.0,0.77],[0.92,0.78],[0.82,0.83],[0.74,0.85],[0.64,0.9],
 [0.56,0.91],[0.46,0.97],[0.38,0.98],[0.28,1.04],[0.2,1.05],[0.1,1.12],[0.02,1.14],
 [0.0,1.24],[0.06,1.34],[0.14,1.4],[0.22,1.48],[0.32,1.5],[0.42,1.55],[0.52,1.53],[0.62,1.57],[0.72,1.53],
 [0.82,1.55],[0.92,1.49],[1.02,1.48],[1.12,1.41],[1.22,1.39],[1.32,1.31],[1.42,1.28],[1.52,1.19],[1.62,1.15],
 [1.72,1.06],[1.82,1.01],[1.92,0.92],[2.02,0.87],[2.12,0.77],[2.22,0.71],[2.32,0.61],[2.4,0.56],[2.48,0.46],
 [2.56,0.4],[2.62,0.34],[2.56,0.3],[2.48,0.34],[2.4,0.33],[2.32,0.38],[2.24,0.37],[2.16,0.42],[2.08,0.41],
 [2.0,0.46],[1.92,0.45],[1.84,0.5],[1.74,0.5],[1.66,0.55],[1.56,0.55],[1.48,0.59],[1.38,0.6],[1.3,0.65],
 [1.2,0.66],[1.12,0.71],[1.02,0.72],[0.94,0.77],[0.84,0.79],[0.76,0.84],[0.66,0.86],[0.58,0.91],[0.48,0.93],
 [0.4,0.98],[0.3,1.0],[0.22,1.06],[0.12,1.08],[0.04,1.14],
 [0.06,1.22],[0.12,1.34],[0.2,1.38],[0.3,1.44],[0.4,1.43],[0.5,1.48],[0.6,1.45],[0.7,1.49],[0.8,1.44],
 [0.9,1.44],[1.0,1.38],[1.1,1.37],[1.2,1.3],[1.3,1.27],[1.4,1.19],[1.5,1.15],[1.6,1.06],[1.7,1.01],
 [1.8,0.92],[1.9,0.86],[2.0,0.76],[2.1,0.7],[2.2,0.6],[2.28,0.52],[2.36,0.44],[2.42,0.36],[2.46,0.3],
 [2.38,0.32],[2.3,0.36],[2.22,0.36],[2.14,0.4],[2.06,0.4],[1.98,0.44],[1.9,0.44],[1.82,0.48],[1.74,0.48],
 [1.66,0.52],[1.58,0.52],[1.5,0.56],[1.42,0.57],[1.34,0.61],[1.26,0.62],[1.18,0.66],[1.1,0.67],[1.02,0.72],
 [0.92,0.73],[0.84,0.78],[0.74,0.8],[0.66,0.85],[0.56,0.87],[0.48,0.92],[0.38,0.94],[0.3,0.99],[0.2,1.02],
 [0.12,1.08],[0.02,1.12],
 [0.1,1.1],[0.04,1.02],[0.0,1.08],[0.05,1.16],[0.02,1.22],[0.1,1.26],[0.08,1.34],[0.16,1.36],[0.2,1.44],
 [0.3,1.42],[0.34,1.5],[0.44,1.47],[0.5,1.54],[0.6,1.5],[0.66,1.56],[0.76,1.5],[0.84,1.52],[0.92,1.44],
 [1.02,1.46],[1.08,1.38],[1.18,1.38],[1.24,1.3],[1.34,1.28],[1.4,1.2],[1.5,1.18],[1.56,1.1],[1.66,1.06],
 [1.72,0.98],[1.82,0.94],[1.88,0.86],[1.98,0.82],[2.04,0.72],[2.14,0.7],[2.2,0.6],[2.3,0.56],[2.36,0.48],
 [2.46,0.44],[2.5,0.36],[2.58,0.34],[2.52,0.29],[2.44,0.33],[2.38,0.3],[2.3,0.35],[2.22,0.33],[2.16,0.38],
 [2.08,0.36],[2.0,0.42],[1.92,0.4],[1.86,0.46],[1.76,0.44],[1.7,0.5],[1.6,0.49],[1.54,0.55],[1.44,0.54],
 [1.38,0.6],[1.28,0.59],[1.22,0.65],[1.12,0.65],[1.06,0.71],[0.96,0.71],[0.9,0.77],[0.8,0.78],[0.74,0.84],
 [0.64,0.85],[0.58,0.91],[0.48,0.92],[0.42,0.98],[0.32,0.99],[0.26,1.05],[0.16,1.06],[0.1,1.12],[0.02,1.16],
 [0.06,1.3],[0.0,1.4],[0.06,1.46],[0.1,1.42],[0.16,1.5],[0.24,1.48],[0.3,1.56],[0.4,1.52],[0.46,1.58],
 [0.56,1.53],[0.62,1.58],[0.72,1.52],[0.8,1.54],[0.88,1.46],[0.96,1.47],[1.04,1.4],[1.12,1.4],[1.2,1.32],
 [1.3,1.3],[1.36,1.22],[1.46,1.2],[1.52,1.1],[1.62,1.08],[1.68,0.98],[1.78,0.95],[1.84,0.85],[1.94,0.82],
 [2.0,0.72],[2.1,0.68],[2.16,0.6],[2.26,0.56],[2.32,0.48],[2.4,0.44],[2.45,0.36],[2.38,0.38],[2.32,0.42],
 [2.24,0.4],[2.18,0.46],[2.1,0.44],[2.02,0.5],[1.94,0.48],[1.88,0.54],[1.8,0.52],[1.72,0.58],[1.64,0.56],
 [1.58,0.62],[1.48,0.6],[1.42,0.66],[1.32,0.65],[1.26,0.71],[1.16,0.7],[1.1,0.77],[1.0,0.76],[0.94,0.83],
 [0.84,0.82],[0.78,0.89],[0.68,0.88],[0.62,0.95],[0.52,0.95],[0.46,1.02],[0.36,1.02],[0.3,1.09],[0.2,1.1],
 [0.14,1.17],[0.06,1.18],[0.0,1.24],
 [0.04,1.32],[0.12,1.3],[0.18,1.38],[0.28,1.34],[0.36,1.4],[0.46,1.36],[0.54,1.42],[0.62,1.34],[0.72,1.36],
 [0.78,1.26],[0.88,1.28],[0.94,1.18],[1.04,1.2],[1.08,1.1],[1.18,1.12],[1.24,1.02],[1.32,1.06],[1.3,0.96],
 [1.4,0.98],[1.44,0.9],[1.54,0.92],[1.58,0.82],[1.68,0.82],[1.74,0.74],[1.84,0.74],[1.9,0.66],[2.0,0.64],
 [2.06,0.56],[2.16,0.54],[2.22,0.46],[2.3,0.44],[2.34,0.38],[2.26,0.36],[2.2,0.42],[2.12,0.4],[2.04,0.46],
 [1.96,0.44],[1.9,0.5],[1.82,0.48],[1.76,0.54],[1.66,0.52],[1.6,0.58],[1.5,0.56],[1.44,0.63],[1.34,0.62],
 [1.28,0.68],[1.18,0.68],[1.12,0.74],[1.02,0.74],[0.96,0.8],[0.86,0.8],[0.8,0.87],[0.7,0.86],[0.64,0.93],
 [0.54,0.93],[0.48,1.0],[0.38,1.0],[0.32,1.07],[0.22,1.07],[0.16,1.14],[0.08,1.14],[0.02,1.2],
 [0.0,1.3],[0.08,1.34],[0.12,1.42],[0.22,1.42],[0.28,1.5],[0.38,1.46],[0.44,1.52],[0.54,1.48],[0.6,1.52],
 [0.7,1.46],[0.78,1.48],[0.86,1.4],[0.94,1.42],[1.02,1.34],[1.1,1.34],[1.18,1.26],[1.28,1.24],[1.34,1.16],
 [1.44,1.14],[1.5,1.05],[1.6,1.02],[1.66,0.93],[1.76,0.9],[1.82,0.8],[1.92,0.77],[1.98,0.68],[2.08,0.64],
 [2.14,0.56],[2.24,0.52],[2.3,0.44],[2.4,0.4],[2.46,0.32],[2.56,0.28],[2.6,0.24],[2.52,0.22],[2.46,0.27],
 [2.38,0.26],[2.3,0.31],[2.22,0.3],[2.14,0.35],[2.06,0.34],[1.98,0.39],[1.9,0.38],[1.82,0.43],[1.72,0.42],
 [1.66,0.47],[1.56,0.46],[1.5,0.52],[1.4,0.51],[1.34,0.56],[1.24,0.56],[1.18,0.62],[1.08,0.62],[1.02,0.68],
 [0.92,0.68],[0.86,0.74],[0.76,0.75],[0.7,0.81],[0.6,0.82],[0.54,0.88],[0.44,0.89],[0.38,0.95],[0.28,0.96],
 [0.22,1.02],[0.12,1.04],[0.06,1.1],[0.0,1.12],
 [0.04,1.2],[0.0,1.3],[0.04,1.38],[0.02,1.48],[0.1,1.52],[0.14,1.6],[0.22,1.58],[0.28,1.64],[0.38,1.6],
 [0.44,1.66],[0.54,1.6],[0.62,1.64],[0.72,1.58],[0.8,1.6],[0.9,1.53],[0.98,1.55],[1.08,1.46],[1.16,1.47],
 [1.26,1.38],[1.34,1.38],[1.42,1.28],[1.5,1.27],[1.6,1.18],[1.66,1.15],[1.76,1.06],[1.82,1.02],[1.92,0.94],
 [1.98,0.88],[2.08,0.8],[2.14,0.74],[2.24,0.66],[2.3,0.6],[2.4,0.54],[2.46,0.5],[2.4,0.46],[2.34,0.5],
 [2.26,0.48],[2.2,0.53],[2.12,0.51],[2.04,0.56],[1.96,0.54],[1.9,0.6],[1.8,0.58],[1.74,0.63],[1.64,0.62],
 [1.58,0.67],[1.48,0.66],[1.42,0.72],[1.32,0.72],[1.26,0.78],[1.16,0.78],[1.1,0.84],[1.0,0.84],[0.94,0.9],
 [0.84,0.9],[0.78,0.96],[0.68,0.97],[0.62,1.03],[0.52,1.03],[0.46,1.1],[0.36,1.1],[0.3,1.16],[0.2,1.17],
 [0.14,1.22],[0.06,1.24],
 [0.0,1.34],[0.06,1.4],[0.12,1.36],[0.18,1.44],[0.26,1.42],[0.32,1.5],[0.42,1.48],[0.48,1.55],[0.58,1.5],
 [0.64,1.56],[0.74,1.5],[0.82,1.53],[0.9,1.46],[0.98,1.47],[1.06,1.4],[1.14,1.4],[1.22,1.32],[1.3,1.31],
 [1.38,1.22],[1.46,1.2],[1.54,1.11],[1.62,1.08],[1.7,0.99],[1.78,0.96],[1.86,0.87],[1.94,0.84],[2.02,0.75],
 [2.1,0.72],[2.18,0.63],[2.26,0.6],[2.34,0.52],[2.42,0.48],[2.5,0.42],[2.58,0.38],[2.66,0.34],[2.7,0.3],
 [2.62,0.28],[2.54,0.32],[2.46,0.3],[2.38,0.35],[2.3,0.33],[2.22,0.39],[2.14,0.37],[2.06,0.43],[1.98,0.41],
 [1.9,0.47],[1.82,0.45],[1.74,0.51],[1.66,0.49],[1.58,0.55],[1.5,0.53],[1.42,0.59],[1.34,0.58],[1.26,0.64],
 [1.18,0.63],[1.1,0.69],[1.02,0.69],[0.94,0.75],[0.86,0.75],[0.78,0.81],[0.7,0.82],[0.62,0.88],[0.54,0.88],
 [0.46,0.95],[0.38,0.95],[0.3,1.02],[0.22,1.02],[0.14,1.09],[0.06,1.1],[0.0,1.16],
 [0.06,1.22],[0.14,1.24],[0.2,1.3],[0.3,1.28],[0.38,1.34],[0.48,1.3],[0.56,1.34],[0.64,1.26],[0.74,1.28],
 [0.8,1.2],[0.9,1.2],[0.96,1.12],[1.06,1.14],[1.12,1.06],[1.2,1.08],[1.16,0.98],[1.26,0.98],[1.32,1.04],
 [1.38,0.96],[1.34,0.9],[1.44,0.88],[1.52,0.82],[1.62,0.8],[1.7,0.72],[1.8,0.7],[1.88,0.62],[1.98,0.6],
 [2.06,0.54],[2.12,0.5],[2.04,0.48],[1.96,0.52],[1.88,0.52],[1.8,0.56],[1.72,0.56],[1.64,0.6],[1.56,0.62],
 [1.48,0.66],[1.4,0.68],[1.32,0.72],[1.24,0.74],[1.16,0.78],[1.08,0.8],[1.0,0.84],[0.92,0.86],[0.84,0.9],
 [0.76,0.92],[0.68,0.96],[0.6,0.98],[0.52,1.02],[0.44,1.04],[0.36,1.08],[0.28,1.1],[0.2,1.14],[0.12,1.16],
 [0.06,1.2],
 [0.02,1.26],[0.08,1.3],[0.14,1.4],[0.24,1.4],[0.3,1.48],[0.4,1.46],[0.46,1.52],[0.56,1.47],[0.64,1.5],
 [0.74,1.44],[0.82,1.45],[0.9,1.38],[0.98,1.39],[1.06,1.32],[1.14,1.31],[1.22,1.24],[1.3,1.22],[1.38,1.14],
 [1.46,1.12],[1.54,1.04],[1.62,1.0],[1.7,0.92],[1.78,0.9],[1.86,0.82],[1.94,0.78],[2.02,0.7],[2.1,0.66],
 [2.18,0.6],[2.26,0.56],[2.34,0.5],[2.42,0.47],[2.5,0.44],[2.55,0.42],[2.48,0.4],[2.4,0.42],[2.32,0.44],
 [2.24,0.46],[2.16,0.49],[2.08,0.51],[2.0,0.53],[1.92,0.56],[1.84,0.57],[1.76,0.6],[1.68,0.62],[1.6,0.65],
 [1.52,0.67],[1.44,0.7],[1.36,0.72],[1.28,0.76],[1.2,0.78],[1.12,0.82],[1.04,0.84],[0.96,0.88],[0.88,0.9],
 [0.8,0.94],[0.72,0.96],[0.64,1.0],[0.56,1.02],[0.48,1.06],[0.4,1.08],[0.32,1.12],[0.24,1.14],[0.16,1.18],
 [0.08,1.2],
 [0.02,1.36],[0.08,1.48],[0.16,1.52],[0.24,1.6],[0.34,1.6],[0.42,1.66],[0.52,1.64],[0.62,1.68],[0.72,1.64],
 [0.82,1.66],[0.92,1.6],[1.02,1.6],[1.12,1.54],[1.22,1.52],[1.32,1.46],[1.42,1.42],[1.52,1.36],[1.62,1.3],
 [1.72,1.24],[1.82,1.16],[1.92,1.1],[2.02,1.0],[2.12,0.94],[2.22,0.84],[2.3,0.78],[2.38,0.68],[2.46,0.62],
 [2.52,0.54],[2.6,0.48],[2.66,0.42],[2.72,0.36],[2.66,0.33],[2.58,0.36],[2.5,0.35],[2.42,0.4],[2.34,0.39],
 [2.26,0.44],[2.18,0.43],[2.1,0.48],[2.0,0.48],[1.92,0.53],[1.82,0.53],[1.74,0.58],[1.64,0.58],[1.56,0.63],
 [1.46,0.63],[1.38,0.68],[1.28,0.69],[1.2,0.74],[1.1,0.75],[1.02,0.8],[0.92,0.81],[0.84,0.86],[0.74,0.88],
 [0.66,0.93],[0.56,0.95],[0.48,1.0],[0.38,1.02],[0.3,1.08],[0.2,1.1],[0.12,1.16],[0.04,1.2],
 [0.0,1.28],[0.08,1.36],[0.16,1.34],[0.24,1.42],[0.34,1.4],[0.42,1.46],[0.52,1.42],[0.6,1.46],[0.7,1.38],
 [0.78,1.4],[0.86,1.32],[0.94,1.33],[1.02,1.25],[1.1,1.24],[1.18,1.16],[1.26,1.16],[1.34,1.08],[1.42,1.07],
 [1.5,1.0],[1.58,0.98],[1.66,0.9],[1.74,0.88],[1.82,0.8],[1.9,0.78],[1.98,0.7],[2.06,0.67],[2.14,0.6],
 [2.22,0.57],[2.3,0.5],[2.38,0.46],[2.44,0.4],[2.5,0.36],[2.42,0.34],[2.36,0.38],[2.28,0.37],[2.2,0.42],
 [2.12,0.41],[2.04,0.46],[1.96,0.45],[1.88,0.5],[1.8,0.5],[1.72,0.54],[1.62,0.54],[1.54,0.59],[1.44,0.59],
 [1.36,0.64],[1.26,0.64],[1.18,0.7],[1.08,0.7],[1.0,0.76],[0.9,0.76],[0.82,0.82],[0.72,0.83],[0.64,0.89],
 [0.54,0.9],[0.46,0.96],[0.36,0.97],[0.28,1.03],[0.18,1.04],[0.1,1.1],[0.02,1.1],
 [0.0,1.2],[0.02,1.32],[0.1,1.4],[0.1,1.5],[0.18,1.56],[0.26,1.55],[0.34,1.62],[0.44,1.6],[0.52,1.64],
 [0.62,1.6],[0.7,1.62],[0.8,1.57],[0.9,1.58],[1.0,1.52],[1.1,1.5],[1.2,1.44],[1.3,1.42],[1.4,1.34],
 [1.5,1.3],[1.6,1.22],[1.7,1.18],[1.8,1.08],[1.9,1.02],[2.0,0.93],[2.1,0.86],[2.2,0.76],[2.3,0.7],
 [2.4,0.6],[2.5,0.52],[2.58,0.44],[2.66,0.38],[2.74,0.34],[2.8,0.3],[2.72,0.27],[2.64,0.31],[2.56,0.29],
 [2.48,0.34],[2.4,0.32],[2.32,0.37],[2.24,0.36],[2.16,0.41],[2.08,0.4],[2.0,0.45],[1.92,0.44],[1.84,0.49],
 [1.76,0.48],[1.68,0.53],[1.58,0.52],[1.5,0.57],[1.4,0.56],[1.32,0.61],[1.22,0.61],[1.14,0.67],[1.04,0.67],
 [0.96,0.73],[0.86,0.73],[0.78,0.79],[0.68,0.8],[0.6,0.86],[0.5,0.87],[0.42,0.93],[0.32,0.94],[0.24,1.0],
 [0.14,1.01],[0.06,1.06],[0.0,1.08],
 [0.02,1.38],[0.1,1.3],[0.18,1.34],[0.12,1.22],[0.22,1.18],[0.16,1.1],[0.26,1.12],[0.3,1.22],[0.22,1.28],
 [0.3,1.34],[0.2,1.4],[0.1,1.44],[0.0,1.42]
];

// ---------- (d) deterministic, x20 vs y20 ----------
const detD = [
 [0,0],[0.034,0.078],[0.069,0.167],[0.087,0.257],[0.092,0.316],[0.082,0.391],[0.069,0.451],[0.069,0.488],
 [0.087,0.518],[0.137,0.548],[0.252,0.588],[0.389,0.642],[0.526,0.69],[0.664,0.742],[0.778,0.791],[0.87,0.827],
 [0.984,0.864],[1.121,0.887],[1.259,0.884],[1.396,0.866],[1.533,0.824],[1.648,0.764],[1.751,0.69],[1.812,0.622],
 [1.822,0.585],[1.796,0.563],[1.728,0.558],[1.602,0.578],[1.442,0.607],[1.259,0.652],[1.076,0.701],[0.915,0.764],
 [0.801,0.824],[0.686,0.899],[0.572,0.981],[0.435,1.078],[0.32,1.16],[0.24,1.234],[0.217,1.287],[0.233,1.331],
 [0.297,1.391],[0.412,1.451],[0.526,1.484],[0.664,1.496],[0.801,1.488],[0.984,1.443],[1.167,1.384],[1.35,1.301],
 [1.533,1.197],[1.716,1.063],[1.899,0.913],[2.037,0.764],[2.094,0.63],[2.094,0.54],[2.037,0.503],[1.945,0.496],
 [1.785,0.518],[1.556,0.563],[1.327,0.618],[1.098,0.675],[0.915,0.734],[0.778,0.801],[0.641,0.891],[0.526,0.988],
 [0.446,1.093],[0.412,1.197],[0.423,1.279],[0.492,1.384],[0.595,1.439],[0.721,1.458],[0.87,1.443],[1.053,1.391],
 [1.259,1.272],[1.442,1.137],[1.602,0.988],[1.705,0.839],[1.728,0.712],[1.693,0.637],[1.625,0.618],[1.487,0.622],
 [1.304,0.652],[1.121,0.701],[0.961,0.772],[0.824,0.869],[0.721,0.973],[0.675,1.078],[0.686,1.182],[0.744,1.245],
 [0.812,1.257],[0.915,1.23],[1.053,1.145],[1.167,1.048],[1.247,0.951],[1.27,0.876],[1.241,0.831],[1.178,0.824],
 [1.087,0.861],[0.984,0.928],[0.904,1.003],[0.881,1.048],[0.897,1.078],[0.938,1.081],[0.995,1.048],[1.048,0.988],
 [1.053,0.958],[1.025,0.951],[0.984,0.973],[0.968,1.003],[0.984,1.018],[1.007,1.01],[1.011,0.991],[0.995,0.985],
 [0.99,0.996],[1.0,1.0]
];

// ---------- chart helpers ----------
const toXY = arr => arr.map(p => ({x: p[0], y: p[1]}));
const fmt = v => String(Math.round(v * 10) / 10);

const boxPlugin = {
  id: 'matlabBox',
  afterDatasetsDraw(chart) {
    const {ctx, chartArea: a, scales: {x, y}} = chart;
    ctx.save();
    ctx.strokeStyle = '#1a1a1a';
    ctx.lineWidth = 1.4;
    ctx.strokeRect(a.left, a.top, a.right - a.left, a.bottom - a.top);
    ctx.beginPath();
    const L = 6;
    xTicks.forEach(v => {
      const px = Math.round(x.getPixelForValue(v)) + 0.5;
      ctx.moveTo(px, a.bottom); ctx.lineTo(px, a.bottom - L);
      ctx.moveTo(px, a.top); ctx.lineTo(px, a.top + L);
    });
    yTicks.forEach(v => {
      const py = Math.round(y.getPixelForValue(v)) + 0.5;
      ctx.moveTo(a.left, py); ctx.lineTo(a.left + L, py);
      ctx.moveTo(a.right, py); ctx.lineTo(a.right - L, py);
    });
    ctx.lineWidth = 1.1;
    ctx.stroke();
    ctx.restore();
  }
};

function makeChart(id, datasets, padRight) {
  new Chart(document.getElementById(id), {
    type: 'scatter',
    data: {datasets},
    options: {
      responsive: false,
      animation: false,
      devicePixelRatio: 1,
      events: [],
      layout: {padding: {left: 0, right: padRight, top: 48, bottom: 2}},
      plugins: {legend: {display: false}, tooltip: {enabled: false}},
      elements: {point: {radius: 0}},
      scales: {
        x: {
          type: 'linear', min: 0, max: 3.5,
          afterBuildTicks: s => { s.ticks = xTicks.map(v => ({value: v})); },
          afterFit: s => { s.height = 45; },
          grid: {display: false, drawTicks: false},
          border: {display: false},
          ticks: {color: '#111', padding: 5, maxRotation: 0, font: {family: '"Liberation Sans", Arial, sans-serif', size: 19}, callback: v => fmt(v)}
        },
        y: {
          type: 'linear', min: 0, max: 1.8,
          afterBuildTicks: s => { s.ticks = yTicks.map(v => ({value: v})); },
          afterFit: s => { s.width = 109; },
          grid: {display: false, drawTicks: false},
          border: {display: false},
          ticks: {color: '#111', padding: 3, font: {family: '"Liberation Sans", Arial, sans-serif', size: 19}, callback: v => fmt(v)}
        }
      }
    },
    plugins: [boxPlugin]
  });
}

const lineStyle = {showLine: true, borderColor: '#111', pointRadius: 0, fill: false};

makeChart('ca', [
  Object.assign({data: toXY(stochA), borderWidth: 1.15, tension: 0}, lineStyle),
  {data: toXY(stochAcore), showLine: true, borderColor: '#000', backgroundColor: '#000', borderWidth: 1, pointRadius: 0, fill: 'shape', tension: 0.3}
], 40);
makeChart('cb', [Object.assign({data: toXY(detB), borderWidth: 1.3, tension: 0.4}, lineStyle)], 17);
makeChart('cc', [Object.assign({data: toXY(stochC), borderWidth: 1.2, tension: 0}, lineStyle)], 40);
makeChart('cd', [Object.assign({data: toXY(detD), borderWidth: 1.3, tension: 0.4}, lineStyle)], 17);
</script>
</body>
</html>
